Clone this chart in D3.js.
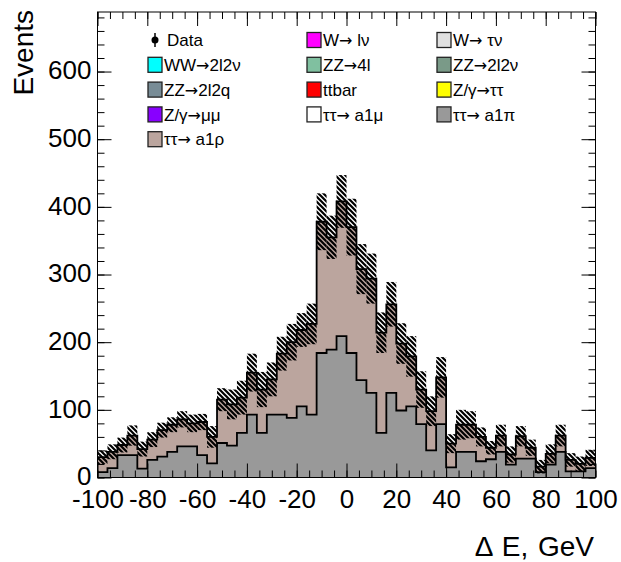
<!DOCTYPE html>
<html>
<head>
<meta charset="utf-8">
<script src="https://cdn.jsdelivr.net/npm/d3@7"></script>
<style>
body { margin: 0; background: #fff; }
text { font-family: "Liberation Sans", Arial, Helvetica, sans-serif; fill: #000; }
</style>
</head>
<body>
<script>
var width = 621,
	height = 562;

// binning of the Delta E histogram
var xMin = -100, xMax = 100, binWidth = 4;

// tau tau -> a1 pi (grey, bottom of the stack)
var a1pi = [8, 14, 33, 33, 13, 26, 31, 38, 46, 46,
	33, 21, 51, 47, 66, 93, 66, 93, 93, 88,
	105, 93, 184, 189, 209, 184, 144, 125, 66, 125,
	99, 105, 79, 40, 79, 15, 38, 38, 24, 27,
	38, 19, 28, 28, 8, 19, 38, 9, 9, 14];

// tau tau -> a1 rho (brown, stacked on top)
var a1rho = [22, 24, 15, 29, 29, 30, 39, 40, 40, 34,
	49, 39, 64, 61, 52, 62, 64, 52, 90, 112,
	113, 134, 194, 166, 199, 186, 164, 169, 148, 131,
	99, 74, 51, 58, 69, 35, 40, 40, 36, 17,
	24, 15, 33, 16, 8, 16, 24, 17, 11, 15];

// MC stat. uncertainty of the stack (hatched band)
var mcErr = [10, 11, 11, 15, 11, 11, 11, 11, 12, 13,
	12, 16, 17, 22, 25, 28, 26, 25, 25, 27,
	25, 30, 42, 32, 39, 42, 37, 37, 30, 33,
	30, 30, 27, 22, 30, 14, 22, 20, 14, 10,
	16, 12, 15, 12, 10, 14, 16, 10, 11, 12];

var xTicks = [-100, -80, -60, -40, -20, 0, 20, 40, 60, 80, 100];
var yTicks = [0, 100, 200, 300, 400, 500, 600];

var legendLabels = ["Data", "W\u2192 l\u03bd", "W\u2192 \u03c4\u03bd",
	"WW\u21922l2\u03bd", "ZZ\u21924l", "ZZ\u21922l2\u03bd",
	"ZZ\u21922l2q", "ttbar", "Z/\u03b3\u2192\u03c4\u03c4",
	"Z/\u03b3\u2192\u03bc\u03bc", "\u03c4\u03c4\u2192 a1\u03bc", "\u03c4\u03c4\u2192 a1\u03c0",
	"\u03c4\u03c4\u2192 a1\u03c1"];
var legendColors = [null, "#ff00ff", "#e0e0e0",
	"#00ffff", "#80c0a0", "#7a9a88",
	"#788c96", "#ff0000", "#ffff00",
	"#8800ff", "#ffffff", "#999999",
	"#bba59e"];

var piColor = "#999999",
	rhoColor = "#bba59e";

var svg = d3.select("body").append("svg")
	.attr("width", width)
	.attr("height", height);

var xScale = d3.scaleLinear()
	.domain([xMin, xMax])
	.range([97.5, 595.5]);

var yScale = d3.scaleLinear()
	.domain([0, 688])
	.range([477.5, 12]);

// hatch pattern for the error band
var defs = svg.append("defs");
var pat = defs.append("pattern")
	.attr("id", "hatch")
	.attr("patternUnits", "userSpaceOnUse")
	.attr("width", 5)
	.attr("height", 5);
pat.append("path")
	.attr("d", "M-2,-2 L7,7 M-2,3 L2,7 M3,-2 L7,2")
	.attr("stroke", "#000")
	.attr("stroke-width", 2.2);

var bins = d3.range(xMin, xMax, binWidth).map(function(lo, i){
	return {lo: lo, pi: a1pi[i], tot: a1pi[i] + a1rho[i], err: mcErr[i]};
});
var last = bins[bins.length - 1];
var stepData = bins.concat([{lo: xMax, pi: last.pi, tot: last.tot}]);

var plot = svg.append("g");

plot.append("path")
	.datum(stepData)
	.attr("fill", rhoColor)
	.attr("d", d3.area()
		.curve(d3.curveStepAfter)
		.x(function(d){ return xScale(d.lo); })
		.y0(yScale(0))
		.y1(function(d){ return yScale(d.tot); }));

plot.append("path")
	.datum(stepData)
	.attr("fill", piColor)
	.attr("d", d3.area()
		.curve(d3.curveStepAfter)
		.x(function(d){ return xScale(d.lo); })
		.y0(yScale(0))
		.y1(function(d){ return yScale(d.pi); }));

["tot", "pi"].forEach(function(key){
	plot.append("path")
		.datum(stepData)
		.attr("fill", "none")
		.attr("stroke", "#000")
		.attr("stroke-width", 1.8)
		.attr("d", d3.line()
			.curve(d3.curveStepAfter)
			.x(function(d){ return xScale(d.lo); })
			.y(function(d){ return yScale(d[key]); }));
});

plot.selectAll(".band")
	.data(bins)
	.enter()
	.append("rect")
		.attr("class", "band")
		.attr("x", function(d){ return xScale(d.lo); })
		.attr("y", function(d){ return yScale(d.tot + d.err); })
		.attr("width", function(d){ return xScale(d.lo + binWidth) - xScale(d.lo); })
		.attr("height", function(d){ return yScale(d.tot - d.err) - yScale(d.tot + d.err); })
		.attr("fill", "url(#hatch)");

// axes, ROOT style: ticks inside on all four sides
function styleAxis(g){
	g.select(".domain").remove();
	g.selectAll(".tick line").attr("stroke", "#000").attr("stroke-width", 1);
	g.selectAll("text").style("font-size", "26px");
}

var xMinor = d3.range(xMin, xMax + 1, 5);
var yMinor = d3.range(0, 681, 20);

svg.append("g")
	.attr("transform", "translate(0," + yScale(0) + ")")
	.call(d3.axisBottom(xScale).tickValues(xMinor).tickSize(-7).tickFormat(""))
	.call(styleAxis);
svg.append("g")
	.attr("transform", "translate(0," + yScale(0) + ")")
	.call(d3.axisBottom(xScale).tickValues(xTicks).tickSize(-14).tickPadding(12)
		.tickFormat(function(d){ return String(d); }))
	.call(styleAxis);

svg.append("g")
	.attr("transform", "translate(0," + yScale(688) + ")")
	.call(d3.axisTop(xScale).tickValues(xMinor).tickSize(-7).tickFormat(""))
	.call(styleAxis);
svg.append("g")
	.attr("transform", "translate(0," + yScale(688) + ")")
	.call(d3.axisTop(xScale).tickValues(xTicks).tickSize(-14).tickFormat(""))
	.call(styleAxis);

svg.append("g")
	.attr("transform", "translate(" + xScale(xMin) + ",0)")
	.call(d3.axisLeft(yScale).tickValues(yMinor).tickSize(-7).tickFormat(""))
	.call(styleAxis);
svg.append("g")
	.attr("transform", "translate(" + xScale(xMin) + ",0)")
	.call(d3.axisLeft(yScale).tickValues(yTicks).tickSize(-14).tickPadding(6))
	.call(styleAxis)
	.selectAll("text").attr("dy", "0.28em");

svg.append("g")
	.attr("transform", "translate(" + xScale(xMax) + ",0)")
	.call(d3.axisRight(yScale).tickValues(yMinor).tickSize(-7).tickFormat(""))
	.call(styleAxis);
svg.append("g")
	.attr("transform", "translate(" + xScale(xMax) + ",0)")
	.call(d3.axisRight(yScale).tickValues(yTicks).tickSize(-14).tickFormat(""))
	.call(styleAxis);

svg.append("rect")
	.attr("x", xScale(xMin))
	.attr("y", yScale(688))
	.attr("width", xScale(xMax) - xScale(xMin))
	.attr("height", yScale(0) - yScale(688))
	.attr("fill", "none")
	.attr("stroke", "#000")
	.attr("stroke-width", 1);

// axis titles
svg.append("text")
	.attr("transform", "translate(33,10) rotate(-90)")
	.attr("text-anchor", "end")
	.style("font-size", "28px")
	.text("Events");

svg.append("text")
	.attr("x", 594)
	.attr("y", 556)
	.attr("text-anchor", "end")
	.style("font-size", "28px")
	.style("word-spacing", "2px")
	.text("\u0394 E, GeV");

// legend
var colX = [148, 307, 437];
var legend = svg.selectAll(".leg")
	.data(legendLabels)
	.enter()
	.append("g")
		.attr("class", "leg")
		.attr("transform", function(d, i){
			return "translate(" + colX[i % 3] + "," + (40 + 24.8 * Math.floor(i / 3)) + ")";
		});

legend.each(function(d, i){
	var g = d3.select(this);
	if (legendColors[i] == null){
		g.append("line")
			.attr("x1", 7).attr("x2", 7)
			.attr("y1", -7).attr("y2", 7)
			.attr("stroke", "#000")
			.attr("stroke-width", 1.5);
		g.append("circle")
			.attr("cx", 7).attr("cy", 0)
			.attr("r", 3.5)
			.attr("fill", "#000");
	}
	else{
		g.append("rect")
			.attr("x", 0).attr("y", -7.5)
			.attr("width", 14).attr("height", 15)
			.attr("fill", legendColors[i])
			.attr("stroke", "#222")
			.attr("stroke-width", 1.3);
	}
	var t = g.append("text")
		.attr("x", legendColors[i] == null ? 19 : 16)
		.attr("y", 0)
		.attr("dy", "0.36em")
		.style("font-size", "17px");
	// the arrow looks better in DejaVu, closer to ROOT's symbol font
	d.split("\u2192").forEach(function(part, k){
		if (k > 0){
			t.append("tspan")
				.style("font-family", "'DejaVu Sans', sans-serif")
				.style("font-size", "16px")
				.text("\u2192");
		}
		t.append("tspan").text(part);
	});
});
</script>
</body>
</html>
